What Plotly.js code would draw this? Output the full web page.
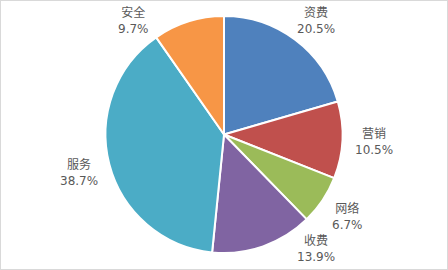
<!DOCTYPE html>
<html><head><meta charset="utf-8">
<script src="https://cdn.plot.ly/plotly-3.0.1.min.js"></script>
<style>html,body{margin:0;padding:0;background:#fff}#chart{width:446px;height:268px;border:1px solid #d9d9d9}</style>
</head><body><div id="chart"></div>
<script>
const categories = ["资费", "营销", "网络", "收费", "服务", "安全"];
const shares = [20.5, 10.5, 6.7, 13.9, 38.7, 9.7];
const colors = ["#4F81BD", "#C0504D", "#9BBB59", "#8064A2", "#4BACC6", "#F79646"];

const W = 446, H = 268;
const margin = {l: 0, r: 0, t: 15, b: 16};
const plotW = W - margin.l - margin.r, plotH = H - margin.t - margin.b;
const R = Math.min(plotW, plotH) / 2;

const total = shares.reduce((a, b) => a + b, 0);
const annotations = [];
let cum = 0;
shares.forEach((v, i) => {
  let theta = (cum + v / 2) / total * 2 * Math.PI; // clockwise from top
  cum += v;
  const dist = t => R + 21.5 + 10 * Math.abs(Math.sin(t));
  const limit = R - 4;
  const target = Math.sin(theta) >= 0 ? Math.PI / 2 : 3 * Math.PI / 2;
  let guard = 0;
  while (Math.abs(Math.cos(theta)) * dist(theta) > limit && guard < 400) {
    theta += (target > theta ? 1 : -1) * Math.PI / 360;
    guard++;
  }
  const d = dist(theta);
  const dx = Math.sin(theta) * d, dy = -Math.cos(theta) * d;
  const pct = (v / total * 100).toFixed(1) + "%";
  annotations.push({
    xref: "paper", yref: "paper",
    x: 0.5 + dx / plotW, y: 0.5 - dy / plotH,
    xanchor: "center", yanchor: "middle",
    text: categories[i] + "<br>" + pct,
    showarrow: false,
    font: {family: "DejaVu Sans, Noto Sans CJK SC", size: 12, color: "#595959"}
  });
});

const trace = {
  type: "pie",
  labels: categories,
  values: shares,
  sort: false,
  direction: "clockwise",
  rotation: 0,
  marker: {colors: colors, line: {color: "#ffffff", width: 2}},
  textinfo: "none",
  showlegend: false,
  hoverinfo: "none"
};
const layout = {
  width: W, height: H,
  margin: margin,
  paper_bgcolor: "#ffffff",
  showlegend: false,
  annotations: annotations
};
Plotly.newPlot("chart", [trace], layout, {staticPlot: true, displayModeBar: false});
</script></body></html>
